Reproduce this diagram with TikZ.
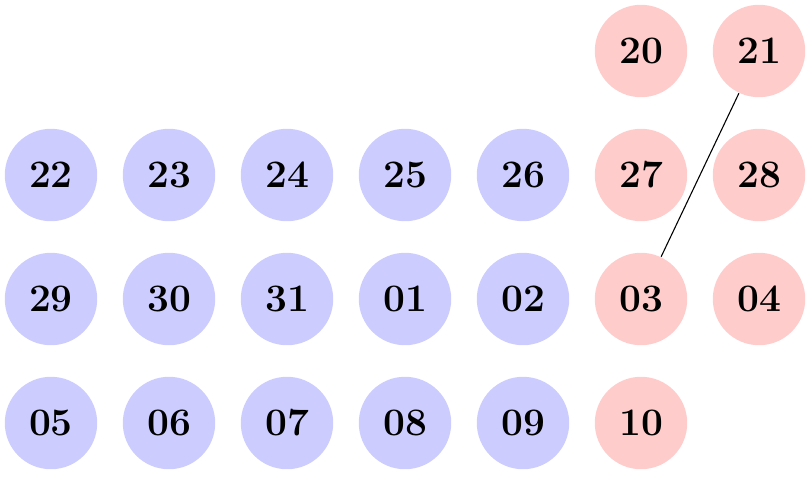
\documentclass[tikz,border=0pt]{standalone}
\usetikzlibrary{positioning}
\begin{document}
\begin{tikzpicture}[x=0.37pt,y=-0.37pt,
  ball/.style={circle,inner sep=0pt,minimum size=34.2pt,font=\Large\bfseries},
  blueball/.style={ball,fill=blue!20},
  redball/.style={ball,fill=red!20}]
\useasboundingbox (0,0) rectangle (811,476);
% row 1
\node[redball] (n20) at (641,51) {20};
\node[redball] (n21) at (759,51) {21};
% row 2
\node[blueball] (n22) at (51,175) {22};
\node[blueball] (n23) at (169,175) {23};
\node[blueball] (n24) at (287,175) {24};
\node[blueball] (n25) at (405,175) {25};
\node[blueball] (n26) at (523,175) {26};
\node[redball] (n27) at (641,175) {27};
\node[redball] (n28) at (759,175) {28};
% row 3
\node[blueball] (n29) at (51,299) {29};
\node[blueball] (n30) at (169,299) {30};
\node[blueball] (n31) at (287,299) {31};
\node[blueball] (n01) at (405,299) {01};
\node[blueball] (n02) at (523,299) {02};
\node[redball] (n03) at (641,299) {03};
\node[redball] (n04) at (759,299) {04};
% row 4
\node[blueball] (n05) at (51,423) {05};
\node[blueball] (n06) at (169,423) {06};
\node[blueball] (n07) at (287,423) {07};
\node[blueball] (n08) at (405,423) {08};
\node[blueball] (n09) at (523,423) {09};
\node[redball] (n10) at (641,423) {10};
\draw (n21) -- (n03);
\end{tikzpicture}
\end{document}
